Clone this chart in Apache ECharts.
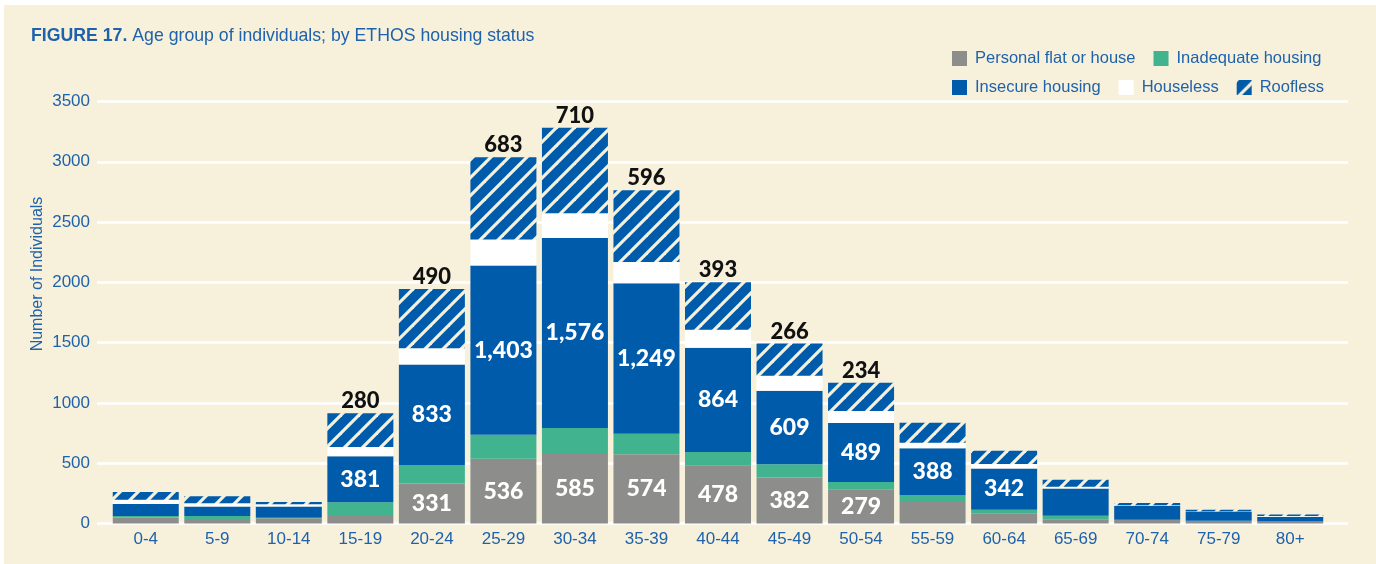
<!DOCTYPE html>
<html>
<head>
<meta charset="utf-8">
<script src="https://cdn.jsdelivr.net/npm/echarts@6/dist/echarts.min.js"></script>
<style>
html,body{margin:0;padding:0;background:#ffffff;}
#chart{width:1376px;height:564px;}
</style>
</head>
<body>
<div id="chart"></div>
<script>
// ---- data ----
const categories = ['0-4','5-9','10-14','15-19','20-24','25-29','30-34','35-39','40-44','45-49','50-54','55-59','60-64','65-69','70-74','75-79','80+'];
const personal   = [50, 30, 44, 71, 331, 536, 585, 574, 478, 382, 279, 187, 80, 35, 30, 20, 15];
const inadequate = [12, 33, 3, 105, 155, 200, 207, 170, 115, 110, 65, 50, 35, 30, 2, 2, 2];
const insecure   = [100, 77, 94, 381, 833, 1403, 1576, 1249, 864, 609, 489, 388, 342, 225, 115, 78, 40];
const houseless  = [35, 27, 19, 78, 135, 216, 205, 175, 150, 125, 100, 45, 37, 14, 4, 2, 6];
const roofless   = [65, 58, 19, 280, 490, 683, 710, 596, 393, 266, 234, 166, 110, 58, 20, 12, 12];
const yTicks = [0, 500, 1000, 1500, 2000, 2500, 3000, 3500];
// which bars carry a value label
const personalLabelled = ['20-24','25-29','30-34','35-39','40-44','45-49','50-54'];
const insecureLabelled = ['15-19','20-24','25-29','30-34','35-39','40-44','45-49','50-54','55-59','60-64'];
const rooflessLabelled = ['15-19','20-24','25-29','30-34','35-39','40-44','45-49','50-54'];

const CREAM = '#F7F1DC';
const GRAY = '#8D8E8C';
const GREEN = '#41B38F';
const BLUE = '#005BAA';
const TXT = '#1E62AC';

// hatch pattern
function makeHatch() {
  const s = 18;
  const c = document.createElement('canvas');
  c.width = s; c.height = s;
  const g = c.getContext('2d');
  g.fillStyle = BLUE; g.fillRect(0, 0, s, s);
  g.strokeStyle = CREAM; g.lineWidth = 3.2;
  for (let k = -1; k <= 1; k++) {
    g.beginPath();
    g.moveTo(-2 + k * s, s + 2);
    g.lineTo(s + 2 + k * s, -2);
    g.stroke();
  }
  return c;
}
const hatch = { image: makeHatch(), repeat: 'repeat' };

const fmt = v => Number(v).toLocaleString('en-US');
function withLabels(values, labelled) {
  return values.map((v, i) => labelled.indexOf(categories[i]) >= 0 ? { value: v, label: { show: true } } : v);
}

const whiteLabel = { show: false, position: 'inside', color: '#ffffff', fontFamily: 'Lato', fontWeight: 900, fontSize: 23, formatter: p => fmt(p.value) };
const topLabel = { show: false, position: 'top', distance: 1, color: '#111111', fontFamily: 'Lato', fontWeight: 900, fontSize: 22, formatter: p => fmt(p.value) };

const chart = echarts.init(document.getElementById('chart'), null, { renderer: 'canvas' });

const barCommon = { type: 'bar', stack: 'total', barWidth: 66, xAxisIndex: 0, yAxisIndex: 0 };
const legendText = { fontFamily: 'Liberation Sans', fontSize: 16.5, color: TXT, padding: [0, 0, 0, 3] };

chart.setOption({
  backgroundColor: CREAM,
  animation: false,
  title: {
    text: '{b|FIGURE 17.} {r|Age group of individuals; by ETHOS housing status}',
    left: 31, top: 27, padding: 0,
    textStyle: {
      rich: {
        b: { fontFamily: 'Liberation Sans', fontWeight: 'bold', fontSize: 17.7, color: TXT },
        r: { fontFamily: 'Liberation Sans', fontWeight: 'normal', fontSize: 17.7, color: TXT }
      }
    }
  },
  legend: [
    {
      data: ['Personal flat or house', 'Inadequate housing'],
      left: 952, top: 50, padding: 0, itemGap: 18, itemWidth: 15, itemHeight: 15,
      icon: 'rect', textStyle: legendText
    },
    {
      data: ['Insecure housing', 'Houseless', 'Roofless'],
      left: 952, top: 79, padding: 0, itemGap: 18, itemWidth: 15, itemHeight: 15,
      icon: 'rect', textStyle: legendText
    }
  ],
  grid: [
    { left: 110, right: 50, top: 101.5, bottom: 40.5 },
    { left: 97, right: 28, top: 101.5, bottom: 40.5 }
  ],
  xAxis: [
    {
      type: 'category', gridIndex: 0, data: categories,
      axisLine: { show: false }, axisTick: { show: false },
      axisLabel: { color: TXT, fontFamily: 'Liberation Sans', fontSize: 17, margin: 7 }
    },
    { type: 'value', gridIndex: 1, min: 0, max: 1, show: false }
  ],
  yAxis: [
    {
      type: 'value', gridIndex: 0, min: yTicks[0], max: yTicks[yTicks.length - 1], interval: 500,
      axisLabel: { show: false }, splitLine: { show: false }, axisLine: { show: false }, axisTick: { show: false }
    },
    {
      type: 'value', gridIndex: 1, min: yTicks[0], max: yTicks[yTicks.length - 1], interval: 500,
      axisLine: { show: false }, axisTick: { show: false },
      splitLine: { show: true, lineStyle: { color: '#ffffff', width: 2.5 } },
      axisLabel: { color: TXT, fontFamily: 'Liberation Sans', fontSize: 17, margin: 7, formatter: v => String(v) }
    }
  ],
  series: [
    Object.assign({}, barCommon, { name: 'Personal flat or house', itemStyle: { color: GRAY }, label: whiteLabel, data: withLabels(personal, personalLabelled) }),
    Object.assign({}, barCommon, { name: 'Inadequate housing', itemStyle: { color: GREEN }, data: inadequate }),
    Object.assign({}, barCommon, { name: 'Insecure housing', itemStyle: { color: BLUE }, label: whiteLabel, data: withLabels(insecure, insecureLabelled) }),
    Object.assign({}, barCommon, { name: 'Houseless', itemStyle: { color: '#ffffff' }, data: houseless }),
    Object.assign({}, barCommon, { name: 'Roofless', itemStyle: { color: hatch }, label: topLabel, data: withLabels(roofless, rooflessLabelled) })
  ],
  graphic: [
    { type: 'rect', shape: { x: 0, y: 0, width: 4, height: 564 }, style: { fill: '#ffffff' }, z: 100, silent: true },
    { type: 'rect', shape: { x: 0, y: 0, width: 1376, height: 5 }, style: { fill: '#ffffff' }, z: 100, silent: true },
    {
      type: 'text', x: 38, y: 274, rotation: Math.PI / 2, silent: true,
      style: { text: 'Number of Individuals', fill: TXT, font: '16px "Liberation Sans"', textAlign: 'center', textVerticalAlign: 'middle' }
    }
  ]
});
</script>
</body>
</html>
